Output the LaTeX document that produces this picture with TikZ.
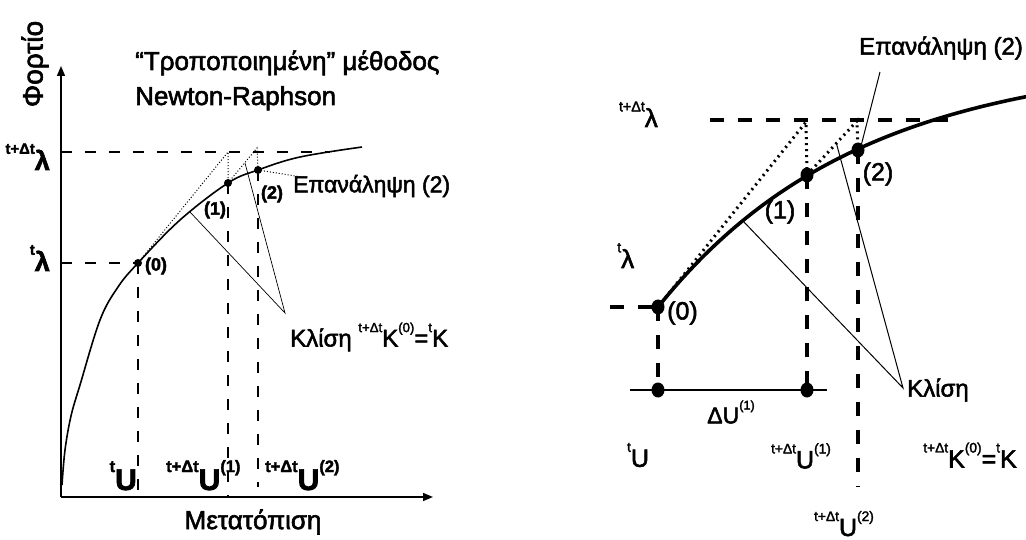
\documentclass[tikz,border=0pt]{standalone}
\usepackage{fontspec}
\usepackage{graphicx}
\setmainfont{Liberation Sans}[FakeBold=2.2]
\usetikzlibrary{arrows.meta,shapes.geometric}
\newcommand\supx[1]{\raisebox{0.6em}{\scalebox{0.55}{#1}}}
\newcommand\fsz[1]{\fontsize{#1}{#1}\selectfont}
\begin{document}
\begin{tikzpicture}[x=1pt,y=-1pt,
  axis/.style={line width=1.6pt,-{Triangle[length=10pt,width=8pt]}},
  dashL/.style={line width=1.4pt,dash pattern=on 11pt off 13pt},
  dotL/.style={line width=1pt,dash pattern=on 1pt off 2pt},
  thinL/.style={line width=0.7pt},
  curveL/.style={line width=1.6pt},
  dotA/.style={circle,fill,inner sep=0pt,minimum size=8pt},
  curveR/.style={line width=3.6pt},
  dashR/.style={line width=3.2pt,dash pattern=on 14pt off 14pt},
  dotR/.style={line width=3pt,dash pattern=on 2pt off 4pt},
  dotB/.style={ellipse,fill,inner sep=0pt,minimum width=13pt,minimum height=15pt},
  thinR/.style={line width=1pt},
  txt/.style={inner sep=0pt}]
\clip (0,0) rectangle (1026,540);
\fill[white] (0,0) rectangle (1026,540);

% ---------------- left diagram ----------------
\coordinate (O) at (61,497);
\coordinate (Ytop) at (61,66);
\coordinate (Xend) at (433,497);
\draw[axis] (O) -- (Ytop);
\draw[axis] (O) -- (Xend);

\node[dotA] (a0) at (138,263) {};
\node[dotA] (a1) at (228,183) {};
\node[dotA] (a2) at (258,170) {};
\coordinate (aL0) at (61,263);
\coordinate (aL1) at (61,152);
\coordinate (aR1) at (330,152);
\coordinate (aT1) at (228,152);
\coordinate (aT2) at (257,148);
\coordinate (aB0) at (138,497);
\coordinate (aB1) at (228,497);
\coordinate (aB2) at (258,487);
\coordinate (aE) at (308,178);
\coordinate (aK) at (285,313);
\coordinate (aK1) at (190,212);
\coordinate (aK2) at (245,163);

\draw[dashL] (aL1) -- (aR1);
\draw[dashL] (aL0) -- (a0.center);
\draw[dashL] (a0.center) -- (aB0);
\draw[dashL] (a1.center) -- (aB1);
\draw[dashL] (a2.center) -- (aB2);

\draw[curveL] plot[smooth,tension=0.6] coordinates {(62,485) (65,450) (71,416) (80,385) (100,320) (118,287) (138,263) (180,220) (228,183) (258,170) (300,157) (362,147)};

\draw[dotL] (a0.center) -- (aT1) -- (a1.center);
\draw[dotL] (a1.center) -- (aT2) -- (a2.center);
\draw[dotL] (a2.center) -- (aE);
\draw[thinL] (aK1) -- (aK) -- (aK2);

\node[txt,rotate=90,font=\fsz{28}] (fort) at (35,64) {Φορτίο};
\node[txt,anchor=base west,font=\fsz{26}] (title1) at (135,70) {“Τροποποιημένη” μέθοδος};
\node[txt,anchor=base west,font=\fsz{26}] (title2) at (135,105) {Newton-Raphson};
\node[txt,anchor=base east,font=\fsz{27}\bfseries] (lamA) at (50,170) {\supx{t+Δt}λ};
\node[txt,anchor=base east,font=\fsz{27}\bfseries] (lamB) at (50,271) {\supx{t}λ};
\node[txt,font=\fsz{18}\bfseries] (n0) at (156,266) {(0)};
\node[txt,font=\fsz{18}\bfseries] (n1) at (215,210) {(1)};
\node[txt,font=\fsz{18}\bfseries] (n2) at (272,194) {(2)};
\node[txt,anchor=west,font=\fsz{23}] (epA) at (293,186) {Επανάληψη (2)};
\node[txt,anchor=west,font=\fsz{24}] (klA) at (290,337) {Κλίση \supx{t+Δt}K\supx{(0)}=\supx{t}K};
\node[txt,anchor=base east,font=\fsz{30}\bfseries] (uA) at (137,490) {\supx{t}U};
\node[txt,anchor=base west,font=\fsz{30}\bfseries] (uA1) at (166,490) {\supx{t+Δt}U\supx{(1)}};
\node[txt,anchor=base west,font=\fsz{30}\bfseries] (uA2) at (265,490) {\supx{t+Δt}U\supx{(2)}};
\node[txt,font=\fsz{26}] (met) at (253,522) {Μετατόπιση};

% ---------------- right diagram ----------------
\node[dotB] (b0) at (658,307) {};
\node[dotB] (b1) at (807,175) {};
\node[dotB] (b2) at (858,150) {};
\node[dotB] (c0) at (658,390) {};
\node[dotB] (c1) at (807,390) {};
\coordinate (bT1) at (806,122);
\coordinate (bT2) at (857,121);
\coordinate (bH0) at (710,120);
\coordinate (bH1) at (952,120);
\coordinate (bL0) at (610,307);
\coordinate (bBL) at (630,390);
\coordinate (bBR) at (827,390);
\coordinate (bB2) at (858,487);
\coordinate (bE1) at (880,72);
\coordinate (bE2) at (861,146);
\coordinate (bK) at (903,388);
\coordinate (bK1) at (743,221);
\coordinate (bK2) at (836,142);

\draw[dashR] (bH0) -- (bH1);
\draw[dashR] (bL0) -- (b0.center);
\draw[dashR] (b0.center) -- (c0.center);
\draw[dashR] (b1.center) -- (c1.center);
\draw[dashR] (b2.center) -- (bB2);
\draw[line width=1.6pt] (bBL) -- (bBR);

\draw[curveR] plot[domain=658:1032,samples=80] (\x,{307-250*(1-exp(-(\x-658)/200))});

\draw[dotR] (b0.center) -- (bT1) -- (b1.center);
\draw[dotR] (b1.center) -- (bT2) -- (b2.center);
\draw[thinR] (bE1) -- (bE2);
\draw[thinR] (bK1) -- (bK) -- (bK2);

\node[txt,anchor=base east,font=\fsz{26}] (lamC) at (658,127) {\supx{t+Δt}λ};
\node[txt,anchor=base west,font=\fsz{26}] (lamD) at (617,268) {\supx{t}λ};
\node[txt,anchor=west,font=\fsz{25}] (m0) at (667,313) {(0)};
\node[txt,font=\fsz{25}] (m1) at (780,212) {(1)};
\node[txt,font=\fsz{25}] (m2) at (878,174) {(2)};
\node[txt,font=\fsz{24}] (epB) at (941,48) {Επανάληψη (2)};
\node[txt,font=\fsz{23}] (du) at (731,412) {ΔU\supx{(1)}};
\node[txt,anchor=west,font=\fsz{24}] (klB) at (907,390) {Κλίση};
\node[txt,font=\fsz{25}] (uB) at (638,455) {\supx{t}U};
\node[txt,font=\fsz{25}] (uB1) at (801,456) {\supx{t+Δt}U\supx{(1)}};
\node[txt,font=\fsz{25}] (kB) at (970,455) {\supx{t+Δt}K\supx{(0)}=\supx{t}K};
\node[txt,anchor=base,font=\fsz{25}] (uB2) at (844,536) {\supx{t+Δt}U\supx{(2)}};
\end{tikzpicture}
\end{document}
